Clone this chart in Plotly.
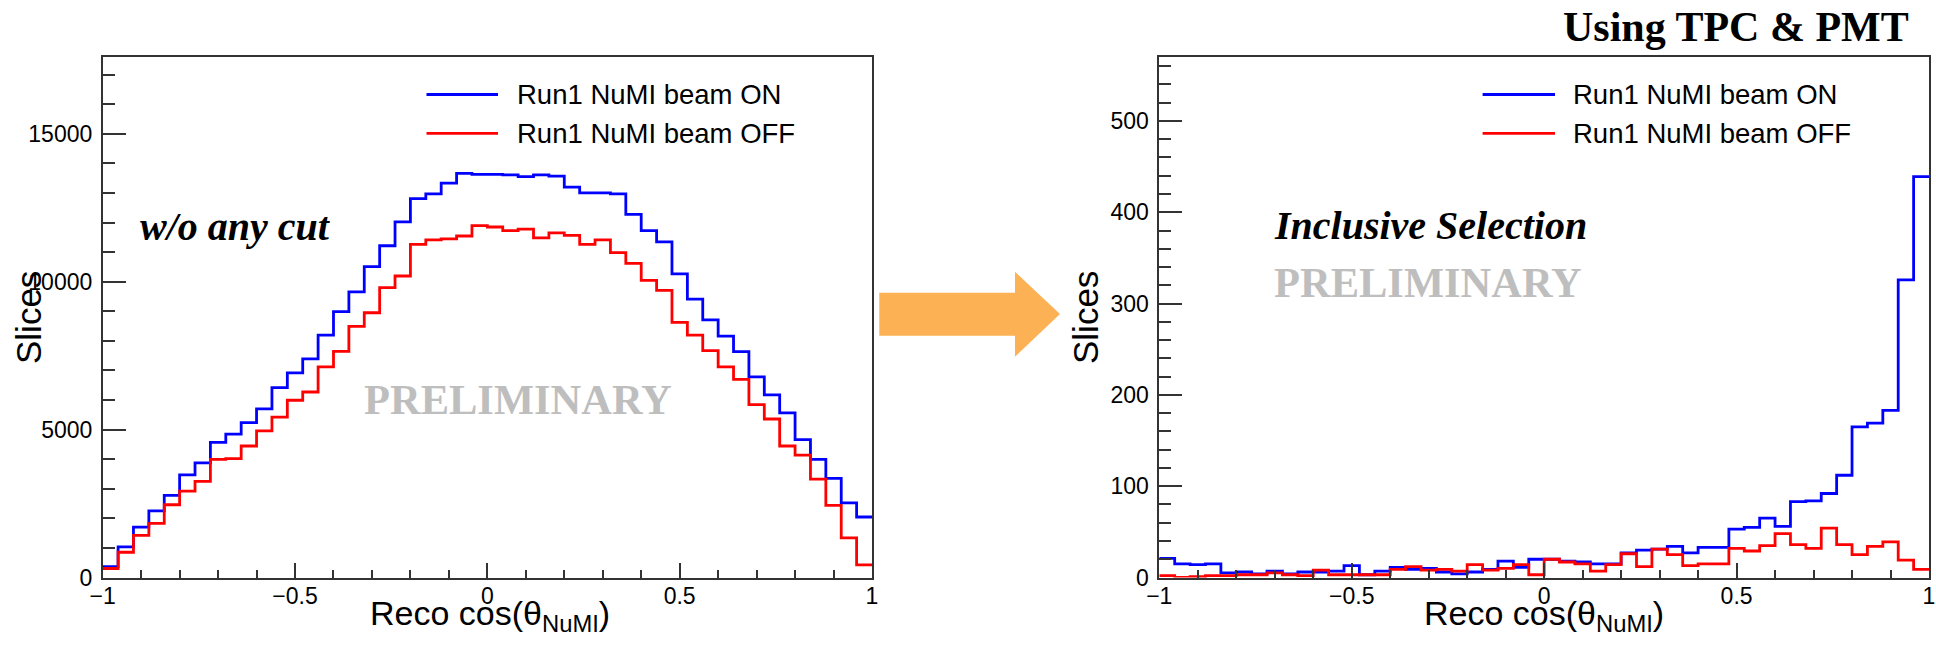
import numpy as np
import plotly.graph_objects as go

# ---------------- data ----------------
BIN_LOW, BIN_HIGH, N_BINS = -1.0, 1.0, 50

# Left panel: w/o any cut
on_nocut = [365, 1035, 1705, 2253, 2777, 3471, 3873, 4568, 4848, 5237,
            5700, 6419, 6918, 7393, 8197, 8989, 9659, 10511, 11218, 12022,
            12813, 12972, 13337, 13666, 13629, 13629, 13617, 13556, 13617, 13569,
            13203, 13008, 13008, 12972, 12277, 11729, 11352, 10268, 9415, 8709,
            8161, 7637, 6784, 6175, 5566, 4665, 3995, 3350, 2521, 2046]
off_nocut = [305, 853, 1425, 1827, 2460, 2923, 3252, 3995, 4019, 4446,
             4957, 5420, 5993, 6273, 7125, 7649, 8490, 8952, 9805, 10195,
             11267, 11413, 11449, 11547, 11900, 11851, 11729, 11778, 11486, 11656,
             11571, 11267, 11413, 10986, 10621, 10049, 9708, 8624, 8197, 7673,
             7125, 6699, 5846, 5359, 4446, 4141, 3325, 2436, 1340, 426]

# Right panel: inclusive selection
on_sel = [21, 15, 14, 15, 5, 6, 4, 7, 4, 6,
          6, 7, 13, 3, 7, 11, 9, 10, 6, 4,
          6, 9, 18, 11, 20, 20, 18, 17, 15, 15,
          27, 30, 31, 34, 27, 33, 33, 53, 55, 65,
          56, 83, 84, 92, 112, 165, 169, 183, 326, 439]
off_sel = [2, 0, 1, 2, 2, 3, 3, 5, 3, 2,
           8, 3, 3, 3, 3, 9, 12, 8, 9, 7,
           14, 8, 10, 14, 3, 20, 17, 15, 7, 14,
           26, 12, 31, 25, 13, 15, 15, 32, 29, 35,
           48, 36, 32, 54, 36, 25, 34, 39, 19, 9]

series_names = ["Run1 NuMI beam ON", "Run1 NuMI beam OFF"]
series_colors = ["#0000FF", "#FF0000"]
x_title = "Reco cos(θ<sub>NuMI</sub>)"
y_title = "Slices"

# ---------------- layout helpers ----------------
W, H = 1936, 646
def px(x):
    return x / W
def py(y):
    return 1 - y / H

edges = np.linspace(BIN_LOW, BIN_HIGH, N_BINS + 1)

def step(vals):
    return list(edges), list(vals) + [vals[-1]]

fig = go.Figure()

panels = [
    dict(x="x", y="y", on=on_nocut, off=off_nocut),
    dict(x="x2", y="y2", on=on_sel, off=off_sel),
]
for p in panels:
    for vals, name, col in zip([p["on"], p["off"]], series_names, series_colors):
        xs, ys = step(vals)
        fig.add_trace(go.Scatter(x=xs, y=ys, mode="lines", name=name,
                                 line=dict(color=col, width=2.8, shape="hv"),
                                 xaxis=p["x"], yaxis=p["y"], showlegend=False,
                                 hoverinfo="skip", cliponaxis=True))

FRAME = "#333333"
tickfont = dict(family="Liberation Sans, Arial", size=23, color="black")
common_x = dict(range=[-1, 1], tick0=0, dtick=0.5, ticks="inside", ticklen=15,
                tickwidth=1.5, tickcolor=FRAME, showline=True, linecolor=FRAME,
                linewidth=1.6, mirror=True, showgrid=False, zeroline=False,
                tickfont=tickfont, fixedrange=True, automargin=False,
                ticklabelstandoff=-3,
                minor=dict(ticks="inside", ticklen=8, tick0=0, dtick=0.1,
                           tickwidth=1.5, tickcolor=FRAME, showgrid=False))
common_y = dict(ticks="inside", ticklen=23, tickwidth=1.5, tickcolor=FRAME,
                showline=True, linecolor=FRAME, linewidth=1.6, mirror=True,
                showgrid=False, zeroline=False, tickfont=tickfont,
                tickformat="d", fixedrange=True, automargin=False,
                ticklabelstandoff=4)

y_dom = [py(577.5), py(57)]
fig.update_layout(
    width=W, height=H, margin=dict(l=0, r=0, t=0, b=0, autoexpand=False),
    paper_bgcolor="white", plot_bgcolor="white", showlegend=False,
    xaxis=dict(domain=[px(102.7), px(872)], anchor="y", **common_x),
    yaxis=dict(domain=y_dom, anchor="x", range=[0, 17600], tick0=0, dtick=5000,
               minor=dict(ticks="inside", ticklen=12, tick0=0, dtick=1000,
                          tickwidth=1.5, tickcolor=FRAME, showgrid=False),
               **common_y),
    xaxis2=dict(domain=[px(1159.3), px(1929)], anchor="y2", **common_x),
    yaxis2=dict(domain=y_dom, anchor="x2", range=[0, 570], tick0=0, dtick=100,
                minor=dict(ticks="inside", ticklen=12, tick0=0, dtick=20,
                           tickwidth=1.5, tickcolor=FRAME, showgrid=False),
                **common_y),
)

ann = []
shapes = []
sans = "Liberation Sans, Arial"
serif = "Liberation Serif, Times New Roman"

# axis titles
for cx, ycx in [(489.5, 28), (1544, 1085)]:
    ann.append(dict(x=px(cx), y=py(615), xref="paper", yref="paper", text=x_title,
                    showarrow=False, xanchor="center", yanchor="middle",
                    font=dict(family=sans, size=34, color="black")))
    ann.append(dict(x=px(ycx), y=py(318), xref="paper", yref="paper", text=y_title,
                    showarrow=False, xanchor="center", yanchor="middle", textangle=-90,
                    font=dict(family=sans, size=35, color="black")))

# legends
for sx0, sx1, tx in [(426.5, 498, 515), (1482.6, 1555, 1571.3)]:
    for yy, name, col in zip([94.5, 133.4], series_names, series_colors):
        shapes.append(dict(type="line", xref="paper", yref="paper",
                           x0=px(sx0), x1=px(sx1), y0=py(yy), y1=py(yy),
                           line=dict(color=col, width=2.8)))
        ann.append(dict(x=px(tx), y=py(yy), xref="paper", yref="paper", text=name,
                        showarrow=False, xanchor="left", yanchor="middle",
                        font=dict(family=sans, size=27.5, color="black")))

# panel labels
ann.append(dict(x=px(138), y=py(226), xref="paper", yref="paper",
                text="<b><i>w/o any cut</i></b>", showarrow=False,
                xanchor="left", yanchor="middle",
                font=dict(family=serif, size=40, color="black")))
ann.append(dict(x=px(1272), y=py(225), xref="paper", yref="paper",
                text="<b><i>Inclusive Selection</i></b>", showarrow=False,
                xanchor="left", yanchor="middle",
                font=dict(family=serif, size=40, color="black")))
for cx, cy in [(517.5, 399), (1427.5, 283)]:
    ann.append(dict(x=px(cx), y=py(cy), xref="paper", yref="paper",
                    text="<b>PRELIMINARY</b>", showarrow=False,
                    xanchor="center", yanchor="middle",
                    font=dict(family=serif, size=42.5, color="#BEBEBE")))
ann.append(dict(x=px(1911), y=py(27), xref="paper", yref="paper",
                text="<b>Using TPC &amp; PMT</b>", showarrow=False,
                xanchor="right", yanchor="middle",
                font=dict(family=serif, size=42, color="black")))

# arrow between the panels
pts = [(879.3, 292.7), (1015, 292.7), (1015, 271.7), (1060, 314),
       (1015, 356.7), (1015, 335.7), (879.3, 335.7)]
path = "M " + " L ".join(f"{px(a):.5f},{py(b):.5f}" for a, b in pts) + " Z"
shapes.append(dict(type="path", xref="paper", yref="paper", path=path,
                   fillcolor="#FDB155", line=dict(width=0)))

fig.update_layout(annotations=ann, shapes=shapes)
fig.write_html("out.html", config={"displayModeBar": False},
               post_script="document.body.style.margin='0';document.body.style.overflow='hidden';")
